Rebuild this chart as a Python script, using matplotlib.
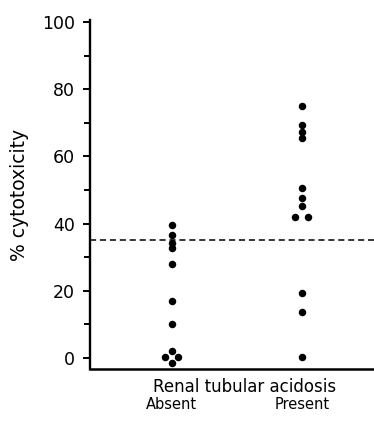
import numpy as np
import matplotlib.pyplot as plt
from matplotlib.ticker import MultipleLocator

# % cytotoxicity
absent = [39.5, 36.7, 34.3, 32.6, 28.0, 17.0, 10.0, 2.2, 0.4, 0.4, -1.6]
present = [75.0, 69.4, 67.3, 65.6, 50.7, 47.7, 45.2, 42.0, 42.0, 19.2, 13.7, 0.4]
groups = ["Absent", "Present"]
threshold = 35.0


def spread(values, step=0.1):
    # push equal values apart sideways, like the hand-drawn dot plot
    values = np.asarray(values)
    dx = np.zeros(len(values))
    for v in np.unique(values):
        idx = np.where(values == v)[0]
        if len(idx) > 1:
            dx[idx] = (np.arange(len(idx)) - (len(idx) - 1) / 2) * step
    return dx


fig = plt.figure(figsize=(3.74, 4.21), dpi=100)
ax = fig.add_axes([90 / 374, 52 / 421, 284 / 374, 349 / 421])

for i, vals in enumerate([absent, present]):
    ax.plot(i + spread(vals), vals, 'o', color='black', markersize=5.4,
            markeredgewidth=0)

ax.axhline(threshold, color='black', lw=1.1, dashes=(4, 2.5))

ax.set_xlim(-0.63, 1.554)
ax.set_ylim(-3.3, 100.6)

ax.spines['top'].set_visible(False)
ax.spines['right'].set_visible(False)
ax.spines['left'].set_linewidth(1.7)
ax.spines['bottom'].set_linewidth(1.8)

ax.yaxis.set_major_locator(MultipleLocator(20))
ax.yaxis.set_minor_locator(MultipleLocator(10))
ax.tick_params(axis='y', which='major', length=5, width=1.4, labelsize=12.5, pad=6)
ax.tick_params(axis='y', which='minor', length=4, width=1.4)

ax.set_xticks([0, 1])
ax.set_xticklabels(groups, fontsize=10.5)
ax.tick_params(axis='x', length=0, pad=20)

ax.set_ylabel('% cytotoxicity', fontsize=13.5, labelpad=9)
fig.text(245 / 374, 1 - 387 / 421, 'Renal tubular acidosis', ha='center',
         va='center', fontsize=12)

fig.savefig('out.png', dpi=100)
